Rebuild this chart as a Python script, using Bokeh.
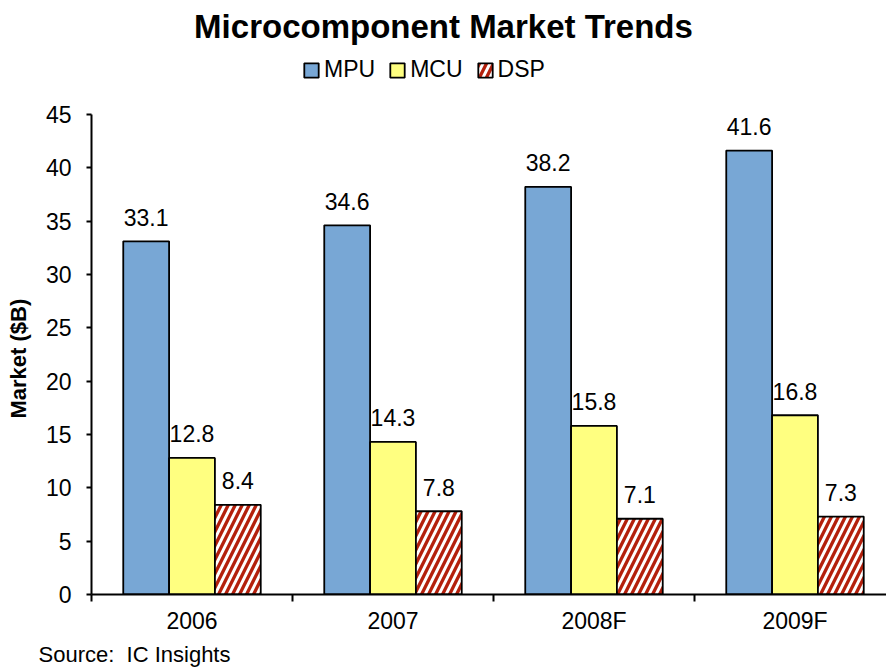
from bokeh.plotting import figure
from bokeh.models import Range1d, FixedTicker, Title, Legend, LegendItem, Label
from bokeh.core.properties import value
from bokeh.embed import file_html
from bokeh.resources import INLINE

years = ["2006", "2007", "2008F", "2009F"]
mpu = [33.1, 34.6, 38.2, 41.6]
mcu = [12.8, 14.3, 15.8, 16.8]
dsp = [8.4, 7.8, 7.1, 7.3]
y_ticks = [0, 5, 10, 15, 20, 25, 30, 35, 40, 45]
y_max = 45

FONT = "Liberation Sans"
W, H = 886, 670
LEFT, BOTTOM = 91, 75
AXIS_TOP = 114               # pixel row of the 45 tick
frame_h = H - BOTTOM         # frame spans from the top of the canvas
unit = 201.0

p = figure(width=W, height=H, output_backend="svg", toolbar_location=None,
           title=None,
           x_range=Range1d(0, (W - LEFT) / unit),
           y_range=Range1d(0, y_max * frame_h / (frame_h - AXIS_TOP)),
           min_border_left=LEFT, min_border_right=0, min_border_top=0,
           min_border_bottom=BOTTOM)
p.outline_line_color = None
p.xgrid.visible = False
p.ygrid.visible = False
p.background_fill_color = "white"
p.border_fill_color = "white"

centers = [i + 0.5 for i in range(len(years))]
bw = 0.228
mpu_x = [c - bw for c in centers]
mcu_x = centers
dsp_x = [c + bw for c in centers]

r1 = p.vbar(x=mpu_x, top=mpu, width=bw, bottom=0, fill_color="#78A7D5",
            line_color="black", line_width=1.8)
r2 = p.vbar(x=mcu_x, top=mcu, width=bw, bottom=0, fill_color="#FFFF80",
            line_color="black", line_width=1.8)
r3 = p.vbar(x=dsp_x, top=dsp, width=bw, bottom=0, fill_color="white",
            hatch_pattern="/", hatch_color="#B4200C", hatch_scale=14, hatch_weight=3.3,
            line_color="black", line_width=1.8)

for xs, vals in ((mpu_x, mpu), (mcu_x, mcu), (dsp_x, dsp)):
    p.text(x=xs, y=vals, text=[f"{v:.1f}" for v in vals],
           text_font=value(FONT), text_font_size="23px", text_align="center",
           text_baseline="alphabetic", y_offset=-24, text_color="black")

# axes
xa = p.xaxis[0]
xa.ticker = FixedTicker(ticks=centers, minor_ticks=[0, 1, 2, 3, 4])
xa.major_label_overrides = {c: y for c, y in zip(centers, years)}
xa.major_tick_line_color = None
xa.major_tick_out = 0
xa.major_tick_in = 0
xa.minor_tick_line_color = "black"
xa.minor_tick_line_width = 2
xa.minor_tick_out = 7
xa.minor_tick_in = 0
xa.axis_line_color = "black"
xa.axis_line_width = 2
xa.major_label_text_font = FONT
xa.major_label_text_font_size = "23px"
xa.major_label_text_color = "black"
xa.major_label_standoff = 6

ya = p.yaxis[0]
ya.ticker = FixedTicker(ticks=y_ticks, minor_ticks=[])
ya.bounds = (0, y_max)
ya.major_tick_out = 5
ya.major_tick_in = 0
ya.major_tick_line_width = 2
ya.major_tick_line_color = "black"
ya.axis_line_color = "black"
ya.axis_line_width = 2
ya.major_label_text_font = FONT
ya.major_label_text_font_size = "23px"
ya.major_label_text_color = "black"
ya.major_label_standoff = 15
# trailing no-break spaces shift the centred label down to the middle of the 0-45 span
ya.axis_label = "Market ($B)" + "\u00a0" * 20
ya.axis_label_text_font = FONT
ya.axis_label_text_font_size = "22px"
ya.axis_label_text_font_style = "bold"
ya.axis_label_text_color = "black"
ya.axis_label_standoff = 12

# legend (inside the tall frame, above the axis top)
lg = Legend(items=[LegendItem(label="MPU", renderers=[r1]),
                   LegendItem(label="MCU", renderers=[r2]),
                   LegendItem(label="DSP", renderers=[r3])],
            orientation="horizontal", location=(211, frame_h - 84),
            border_line_color=None, background_fill_alpha=0,
            padding=0, margin=0, spacing=13,
            glyph_width=18, glyph_height=18, label_height=18, label_standoff=4,
            label_text_font=FONT, label_text_font_size="23px",
            label_text_color="black")
p.add_layout(lg, "center")

p.add_layout(Label(x=443 - LEFT, y=frame_h - 27, x_units="screen", y_units="screen",
                   text="Microcomponent Market Trends", text_font=FONT,
                   text_font_size="33px", text_font_style="bold",
                   text_align="center", text_baseline="middle", text_color="black"))

p.add_layout(Title(text="Source:\u00a0 IC Insights", align="left", offset=-53,
                   text_font=FONT, text_font_size="22px", text_font_style="normal",
                   text_color="black", standoff=7), "below")

open("out.html", "w").write(file_html(p, INLINE))
